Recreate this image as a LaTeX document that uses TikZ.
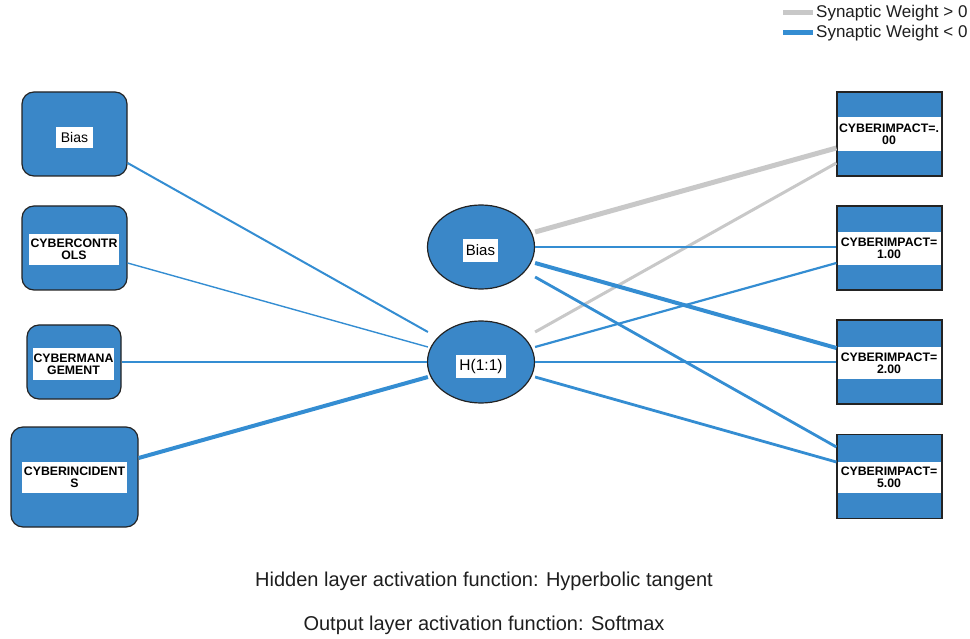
\documentclass[tikz,border=0pt]{standalone}
\usepackage{fontspec}
\setmainfont{Liberation Sans}
\usetikzlibrary{calc,shapes.geometric}
\definecolor{nfill}{RGB}{58,135,200}
\definecolor{wblue}{RGB}{52,141,210}
\definecolor{wgray}{RGB}{200,200,200}
\definecolor{edgec}{RGB}{35,35,35}
\definecolor{txt}{RGB}{30,30,30}
\begin{document}
\begin{tikzpicture}[x=1pt,y=-1pt,
 inbox/.style={draw=edgec,line width=1.2pt,fill=nfill,rounded corners=12pt,inner sep=0pt},
 outbox/.style={draw=edgec,line width=1.2pt,fill=nfill,inner sep=0pt,minimum width=105pt,minimum height=84pt},
 hid/.style={ellipse,draw=edgec,line width=1.2pt,fill=nfill,inner sep=0pt,minimum width=107pt,minimum height=84pt},
 lab/.style={fill=white,inner sep=0pt,text=black,font=\fontsize{12.3}{12}\selectfont\bfseries,align=center},
 plab/.style={fill=white,inner sep=0pt,text=black,align=center},
 negwt/.style={draw=wblue},
 poswt/.style={draw=wgray},
 captxt/.style={text=txt,font=\fontsize{20}{20}\selectfont},
 legtxt/.style={text=txt,font=\fontsize{17}{17}\selectfont,anchor=west,inner sep=3pt}
]
\useasboundingbox (0,0) rectangle (970,639);

% input layer
\node[inbox,minimum width=105pt,minimum height=84pt] (ib) at (74.5,134) {};
\node[inbox,minimum width=105pt,minimum height=84pt] (ic) at (74.5,248) {};
\node[inbox,minimum width=94pt,minimum height=74pt] (im) at (74,362) {};
\node[inbox,minimum width=127pt,minimum height=100pt] (ii) at (74.5,477) {};
\node[plab,minimum width=37pt,minimum height=21pt,font=\fontsize{14}{14}\selectfont] (ibl) at (74.5,137.5) {Bias};
\node[lab,minimum width=90pt,minimum height=31pt] (icl) at (74,249.5) {CYBERCONTR\\OLS};
\node[lab,minimum width=81pt,minimum height=32pt] (iml) at (73.5,364) {CYBERMANA\\GEMENT};
\node[lab,minimum width=105pt,minimum height=31pt] (iil) at (74.5,477.5) {CYBERINCIDENT\\S};

% hidden layer
\node[hid] (hb) at (481,247) {};
\node[hid,minimum height=82pt] (hh) at (481,362) {};
\node[plab,minimum width=35pt,minimum height=23pt,font=\fontsize{15}{15}\selectfont] (hbl) at (480.5,250.5) {Bias};
\node[plab,minimum width=50pt,minimum height=23pt,font=\fontsize{15.5}{16}\selectfont] (hhl) at (481,366.5) {H(1:1)};

% output layer
\node[outbox] (o1) at (889.5,134) {};
\node[outbox] (o2) at (889.5,248) {};
\node[outbox] (o3) at (889.5,362) {};
\node[outbox] (o4) at (889.5,476.5) {};
\node[lab,minimum width=103pt,minimum height=34pt] (o1l) at (889,134) {CYBERIMPACT=.\\00};
\node[lab,minimum width=103pt,minimum height=33pt] (o2l) at (889,248.5) {CYBERIMPACT=\\1.00};
\node[lab,minimum width=103pt,minimum height=32pt] (o3l) at (889,363) {CYBERIMPACT=\\2.00};
\node[lab,minimum width=103pt,minimum height=31pt] (o4l) at (889,477.5) {CYBERIMPACT=\\5.00};

% input -> hidden
\draw[negwt,line width=2pt] ($(ib.east)+(0,29)$) -- ($(hh.west)+(1,-30)$);
\draw[negwt,line width=1.4pt] ($(ic.east)+(0,15)$) -- ($(hh.west)+(1,-15)$);
\draw[negwt,line width=1.1pt] (im.east) -- (hh.west);
\draw[negwt,line width=4pt] ($(ii.east)+(0,-19)$) -- ($(hh.west)+(1,15)$);

% hidden -> output
\draw[poswt,line width=5pt] ($(hb.east)+(0,-15)$) -- ($(o1.west)+(0,14)$);
\draw[poswt,line width=3pt] ($(hh.east)+(0,-30)$) -- ($(o1.west)+(0,29)$);
\draw[negwt,line width=1.1pt] (hb.east) -- ($(o2.west)+(0,-1)$);
\draw[negwt,line width=2.2pt] ($(hh.east)+(0,-15)$) -- ($(o2.west)+(0,15)$);
\draw[negwt,line width=4pt] ($(hb.east)+(0,16)$) -- ($(o3.west)+(0,-14)$);
\draw[negwt,line width=1.8pt] (hh.east) -- (o3.west);
\draw[negwt,line width=2.8pt] ($(hb.east)+(0,30)$) -- ($(o4.west)+(0,-29.5)$);
\draw[negwt,line width=2.8pt] ($(hh.east)+(0,15)$) -- ($(o4.west)+(0,-14.5)$);

% legend
\coordinate (lg1) at (783,13);
\coordinate (lg2) at (783,33);
\node[legtxt] (lgt1) at (813,13) {Synaptic Weight > 0};
\node[legtxt] (lgt2) at (813,33) {Synaptic Weight < 0};
\draw[poswt,line width=5pt] (lg1) -- (lgt1.west);
\draw[negwt,line width=5pt] (lg2) -- (lgt2.west);

% captions
\node[captxt] (cap1) at (484,581) {Hidden layer activation function: Hyperbolic tangent};
\node[captxt] (cap2) at (484,625) {Output layer activation function: Softmax};
\end{tikzpicture}
\end{document}
